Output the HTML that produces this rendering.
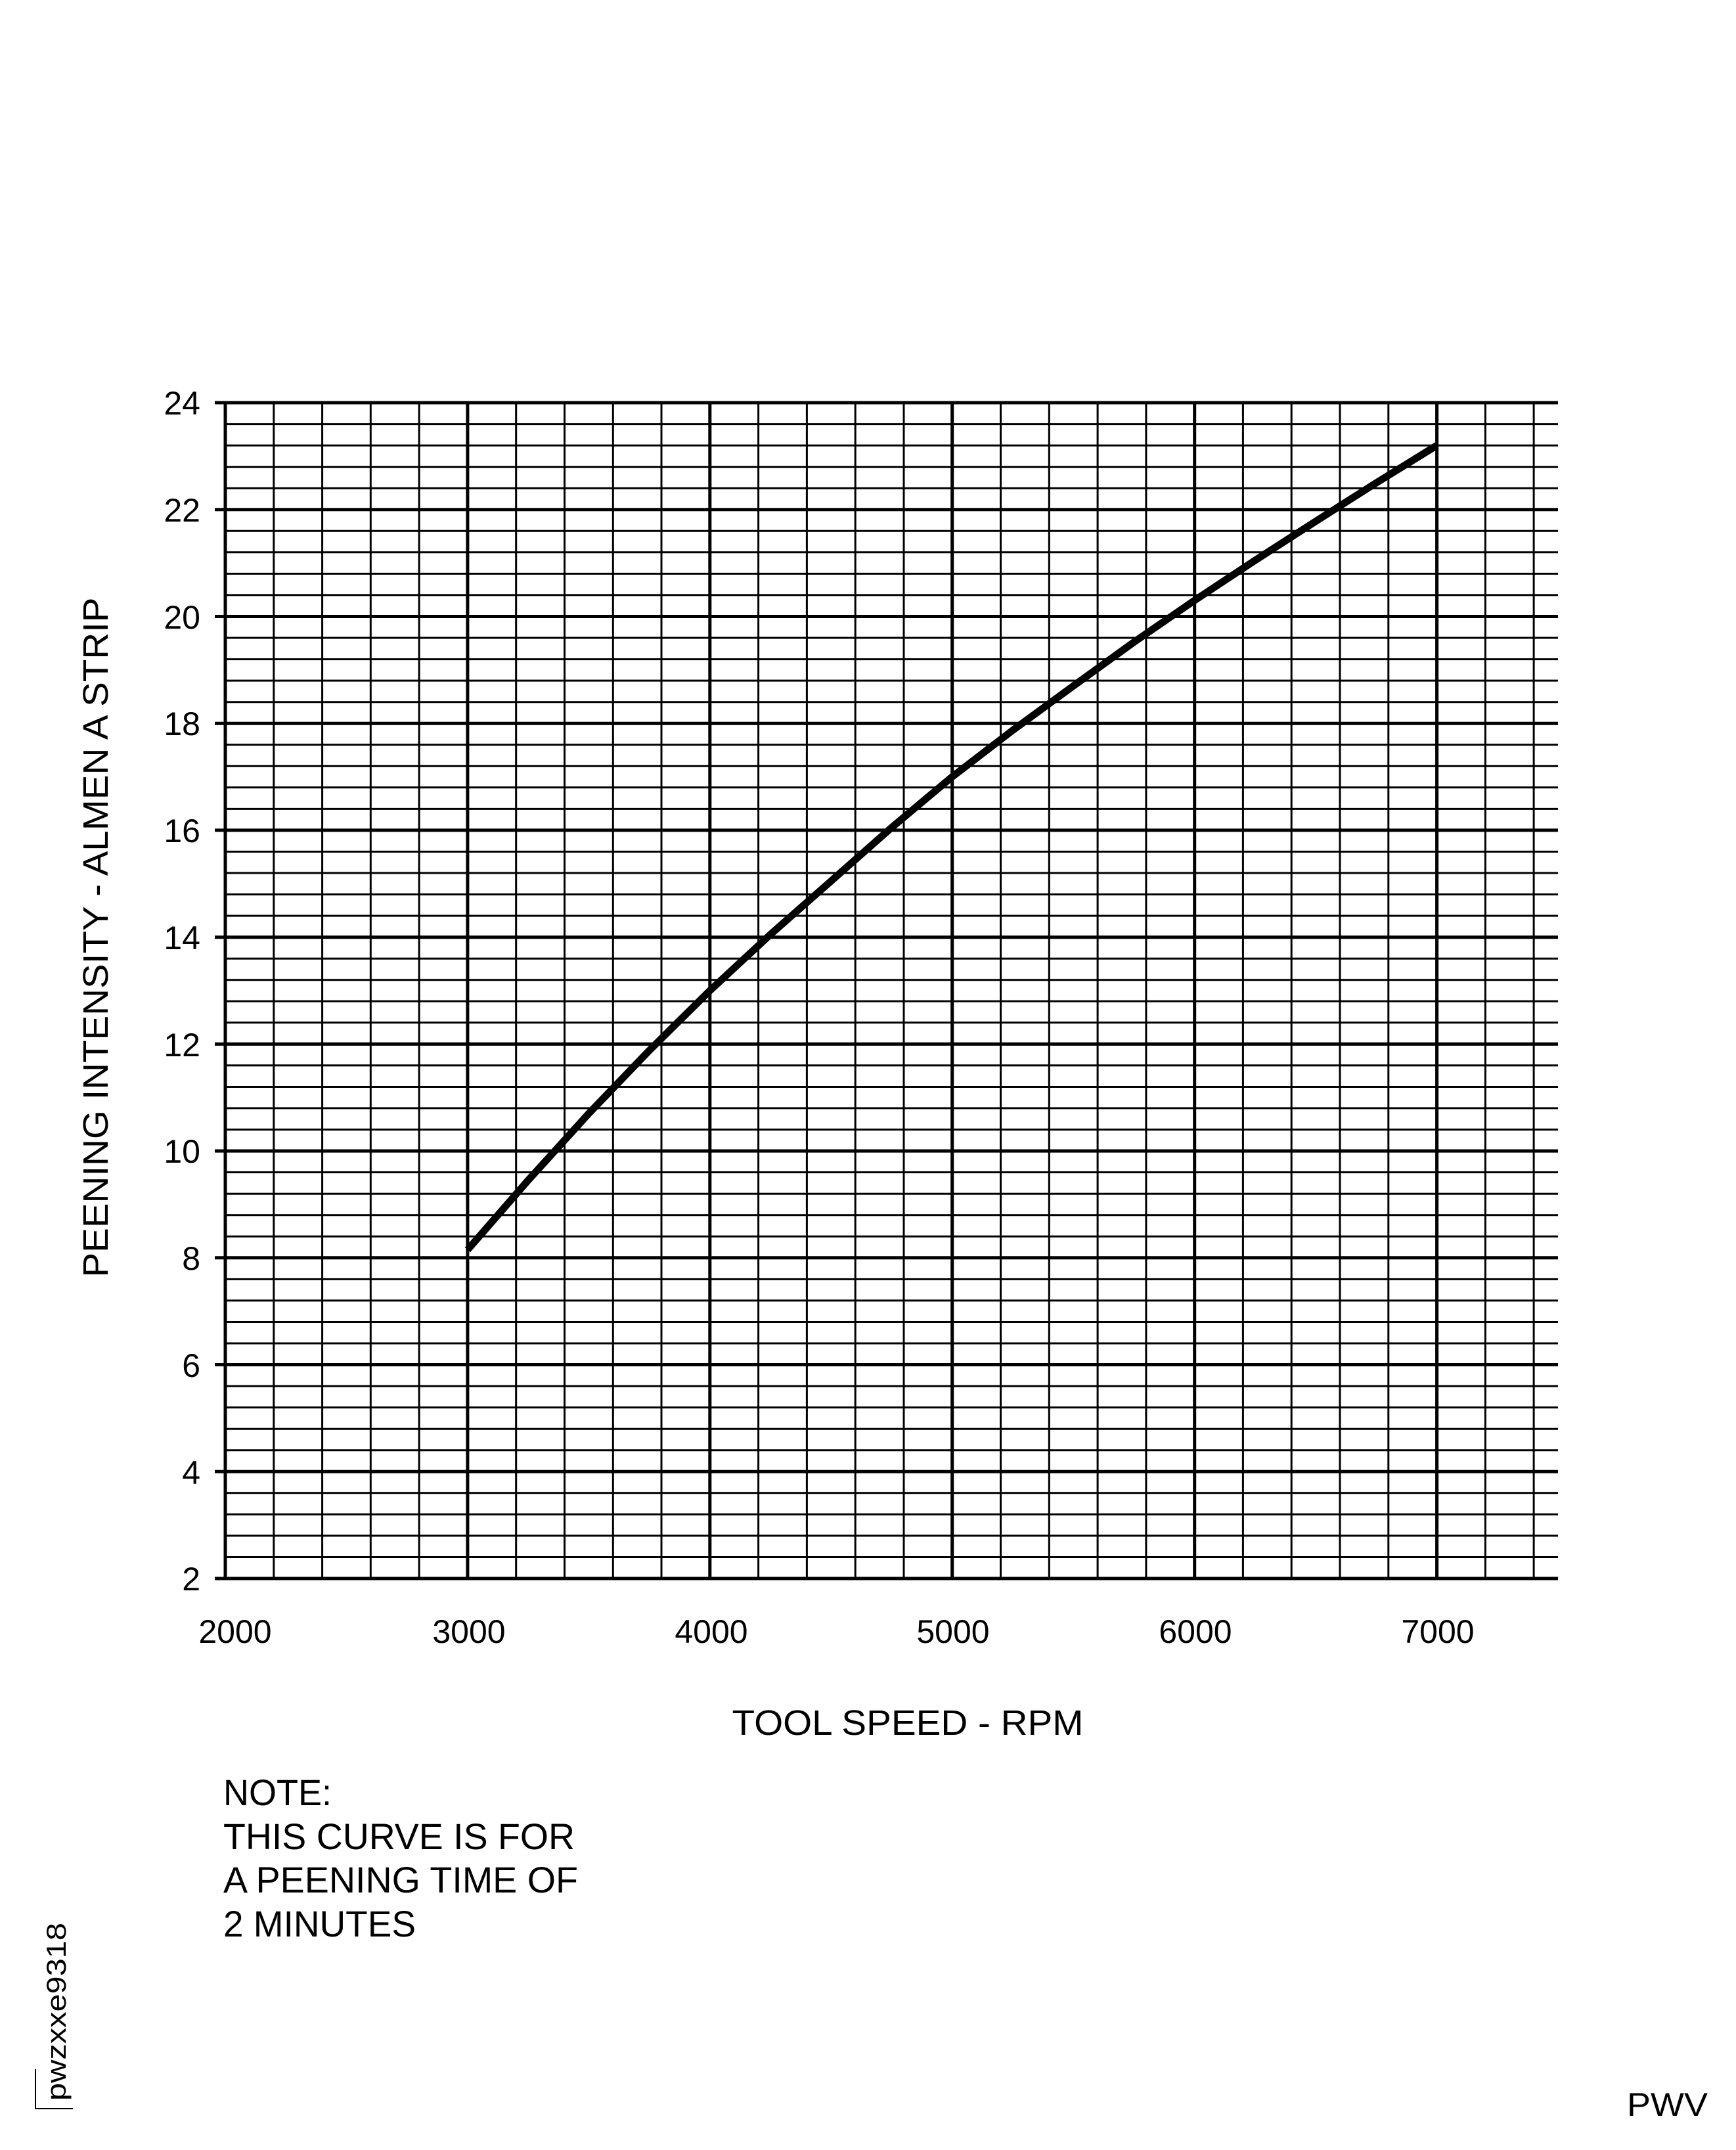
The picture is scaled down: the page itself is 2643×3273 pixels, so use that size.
<!DOCTYPE html>
<html><head><meta charset="utf-8"><style>html,body{margin:0;padding:0;background:#fff}svg{display:block}</style></head>
<body>
<svg width="2643" height="3273" viewBox="0 0 2643 3273" xmlns="http://www.w3.org/2000/svg" font-family="Liberation Sans, Arial, sans-serif">
<rect width="2643" height="3273" fill="#fff"/>
<g stroke="#000" stroke-width="3" fill="none">
<path d="M416.8 613V2403M490.6 613V2403M564.3 613V2403M638.1 613V2403M785.7 613V2403M859.5 613V2403M933.3 613V2403M1007 613V2403M1154.6 613V2403M1228.4 613V2403M1302.2 613V2403M1376 613V2403M1523.5 613V2403M1597.3 613V2403M1671.1 613V2403M1744.9 613V2403M1892.4 613V2403M1966.2 613V2403M2040 613V2403M2113.8 613V2403M2261.4 613V2403M2335.1 613V2403"/>
<path d="M343 2370.5H2372M343 2337.9H2372M343 2305.4H2372M343 2272.8H2372M343 2207.7H2372M343 2175.2H2372M343 2142.6H2372M343 2110.1H2372M343 2045H2372M343 2012.5H2372M343 1979.9H2372M343 1947.4H2372M343 1882.3H2372M343 1849.7H2372M343 1817.2H2372M343 1784.6H2372M343 1719.6H2372M343 1687H2372M343 1654.5H2372M343 1621.9H2372M343 1556.8H2372M343 1524.3H2372M343 1491.7H2372M343 1459.2H2372M343 1394.1H2372M343 1361.6H2372M343 1329H2372M343 1296.5H2372M343 1231.4H2372M343 1198.8H2372M343 1166.3H2372M343 1133.7H2372M343 1068.7H2372M343 1036.1H2372M343 1003.6H2372M343 971H2372M343 905.9H2372M343 873.4H2372M343 840.8H2372M343 808.3H2372M343 743.2H2372M343 710.7H2372M343 678.1H2372M343 645.6H2372"/>
</g>
<g stroke="#000" stroke-width="5" fill="none">
<path d="M343 611V2405M711.9 613V2403M1080.8 613V2403M1449.7 613V2403M1818.7 613V2403M2187.6 613V2403"/>
<path d="M327 2403H2372M327 2240.3H2372M327 2077.5H2372M327 1914.8H2372M327 1752.1H2372M327 1589.4H2372M327 1426.7H2372M327 1263.9H2372M327 1101.2H2372M327 938.5H2372M327 775.8H2372M327 613H2372"/>
</g>
<polyline points="711.9,1902.6 804.1,1796.8 896.4,1695.1 988.6,1599.1 1080.8,1508 1173,1422.5 1265.3,1341.2 1357.5,1259.8 1449.7,1182.5 1541.9,1111.7 1634.2,1044.2 1726.4,977.5 1818.7,914 1910.9,853 2003.1,793.6 2095.4,735 2187.6,678.1" stroke="#000" stroke-width="11" fill="none" stroke-linejoin="round"/>
<g font-size="50" fill="#000" text-anchor="end">
<text x="305" y="631">24</text><text x="305" y="794">22</text><text x="305" y="957">20</text><text x="305" y="1119">18</text><text x="305" y="1282">16</text><text x="305" y="1445">14</text><text x="305" y="1608">12</text><text x="305" y="1770">10</text><text x="305" y="1933">8</text><text x="305" y="2096">6</text><text x="305" y="2259">4</text><text x="305" y="2421">2</text>
</g>
<g font-size="50" fill="#000" text-anchor="middle">
<text x="358" y="2501">2000</text><text x="714" y="2501">3000</text><text x="1083" y="2501">4000</text><text x="1451" y="2501">5000</text><text x="1820" y="2501">6000</text><text x="2189" y="2501">7000</text>
<text x="1382" y="2641" font-size="54" textLength="535" lengthAdjust="spacingAndGlyphs">TOOL SPEED - RPM</text>
<text transform="translate(164 1427) rotate(-90)" font-size="54" textLength="1035" lengthAdjust="spacingAndGlyphs">PEENING INTENSITY - ALMEN A STRIP</text>
</g>
<g font-size="56" fill="#000">
<text x="340" y="2748" textLength="165" lengthAdjust="spacingAndGlyphs">NOTE:</text>
<text x="340" y="2815" textLength="535" lengthAdjust="spacingAndGlyphs">THIS CURVE IS FOR</text>
<text x="340" y="2881" textLength="540" lengthAdjust="spacingAndGlyphs">A PEENING TIME OF</text>
<text x="340" y="2948" textLength="293" lengthAdjust="spacingAndGlyphs">2 MINUTES</text>
<text x="2477" y="3221" font-size="50" textLength="123" lengthAdjust="spacingAndGlyphs">PWV</text>
</g>
<text transform="translate(100 3198) rotate(-90)" font-size="42" fill="#000" textLength="271" lengthAdjust="spacingAndGlyphs">pwzxxe9318</text>
<path d="M54 3150V3210H111" stroke="#000" stroke-width="2" fill="none"/>
</svg>
</body></html>
